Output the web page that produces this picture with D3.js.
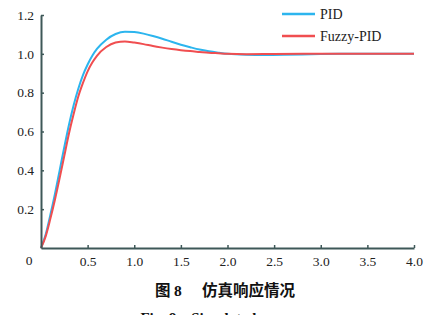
<!DOCTYPE html>
<html>
<head>
<meta charset="utf-8">
<script src="https://cdn.jsdelivr.net/npm/d3@7"></script>
<style>
  body { margin: 0; background: #fff; }
  svg { display: block; }
</style>
</head>
<body>
<div id="chart"></div>
<script>
// time (s) and step response
const tPID = [0, 0.05, 0.1, 0.15, 0.2, 0.25, 0.3, 0.35, 0.4, 0.45, 0.5, 0.55, 0.6, 0.7, 0.8, 0.9, 1.0, 1.1, 1.2, 1.3, 1.4, 1.5, 1.6, 1.7, 1.8, 1.9, 2.0, 2.2, 2.4, 2.6, 2.8, 3.0, 3.2, 3.6, 4.0]
const yPID = [0, 0.07, 0.17, 0.28, 0.40, 0.52, 0.635, 0.735, 0.82, 0.89, 0.945, 0.99, 1.025, 1.073, 1.102, 1.114, 1.112, 1.104, 1.092, 1.078, 1.062, 1.047, 1.034, 1.022, 1.013, 1.006, 1.0, 0.995, 0.994, 0.995, 0.997, 0.999, 1.0, 1.0, 1.0]

const tFuzzy = [0, 0.05, 0.1, 0.15, 0.2, 0.25, 0.3, 0.35, 0.4, 0.45, 0.5, 0.55, 0.6, 0.7, 0.8, 0.9, 1.0, 1.1, 1.2, 1.3, 1.4, 1.5, 1.6, 1.7, 1.8, 1.9, 2.0, 2.2, 2.5, 3.0, 4.0]
const yFuzzy = [0, 0.06, 0.15, 0.25, 0.36, 0.475, 0.59, 0.69, 0.78, 0.85, 0.91, 0.955, 0.99, 1.035, 1.058, 1.064, 1.058, 1.05, 1.04, 1.032, 1.025, 1.019, 1.014, 1.01, 1.006, 1.003, 1.0, 0.998, 0.999, 1.0, 1.0]

const xTicks = [0.5, 1.0, 1.5, 2.0, 2.5, 3.0, 3.5, 4.0]
const yTicks = [0.2, 0.4, 0.6, 0.8, 1.0, 1.2]
const seriesNames = ["PID", "Fuzzy-PID"]
const seriesColors = ["#2cb5ee", "#f04e50"]

const W = 431, H = 315
const axisColor = "#3e5858"
const serif = "'Liberation Serif', 'DejaVu Serif', serif"
const cjk = "'Noto Sans CJK SC', sans-serif"

const svg = d3.select("#chart")
  .append("svg")
    .attr("width", W)
    .attr("height", H)

const x = d3.scaleLinear().domain([0, 4]).range([41, 414])
const y = d3.scaleLinear().domain([0, 1.2]).range([248, 15])

const line = d3.line()
  .x(d => x(d[0]))
  .y(d => y(d[1]))
  .curve(d3.curveMonotoneX)

// curves, PID first so fuzzy sits on top
const series = [
  d3.zip(tPID, yPID),
  d3.zip(tFuzzy, yFuzzy)
]
series.forEach((s, i) => {
  svg.append("path")
    .datum(s)
    .attr("fill", "none")
    .attr("stroke", seriesColors[i])
    .attr("stroke-width", 2)
    .attr("d", line)
})

// axes
const xAxis = d3.axisBottom(x)
  .tickValues(xTicks)
  .tickFormat(d3.format(".1f"))
  .tickSizeInner(-3)
  .tickSizeOuter(0)
  .tickPadding(8)

const yAxis = d3.axisLeft(y)
  .tickValues(yTicks)
  .tickFormat(d3.format(".1f"))
  .tickSizeInner(-3)
  .tickSizeOuter(0)
  .tickPadding(7)

const gx = svg.append("g")
  .attr("transform", `translate(0,${y(0)})`)
  .call(xAxis)
const gy = svg.append("g")
  .attr("transform", `translate(${x(0)},0)`)
  .call(yAxis)

;[gx, gy].forEach(g => {
  g.attr("font-family", null)
  g.select(".domain").attr("stroke", axisColor).attr("stroke-width", 2)
  g.selectAll(".tick line").attr("stroke", axisColor).attr("stroke-width", 1.5)
  g.selectAll("text")
    .attr("fill", "#222")
    .style("font-family", serif)
    .style("font-size", "13.5px")
})

// origin label
svg.append("text")
  .attr("x", 29)
  .attr("y", 265)
  .attr("text-anchor", "middle")
  .attr("fill", "#222")
  .style("font-family", serif)
  .style("font-size", "13.5px")
  .text("0")

// legend
const legend = svg.append("g")
seriesNames.forEach((name, i) => {
  const ly = 14 + i * 22
  legend.append("line")
    .attr("x1", 282).attr("x2", 315)
    .attr("y1", ly).attr("y2", ly)
    .attr("stroke", seriesColors[i])
    .attr("stroke-width", 2.5)
  legend.append("text")
    .attr("x", 320)
    .attr("y", ly + 4.5)
    .attr("fill", "#222")
    .style("font-family", serif)
    .style("font-size", "14px")
    .text(name)
})

// captions
const cap = svg.append("text")
  .attr("y", 296)
  .attr("fill", "#111")
  .style("font-size", "15.5px")
  .style("font-weight", "bold")
cap.append("tspan").attr("x", 155).style("font-family", cjk).text("图")
cap.append("tspan").attr("x", 174).style("font-family", serif).text("8")
cap.append("tspan").attr("x", 202).style("font-family", cjk).text("仿真响应情况")

svg.append("text")
  .attr("x", 228)
  .attr("y", 323)
  .attr("text-anchor", "middle")
  .attr("fill", "#111")
  .style("font-family", serif)
  .style("font-size", "15px")
  .style("font-weight", "bold")
  .text("Fig. 8　Simulated response")
</script>
</body>
</html>
